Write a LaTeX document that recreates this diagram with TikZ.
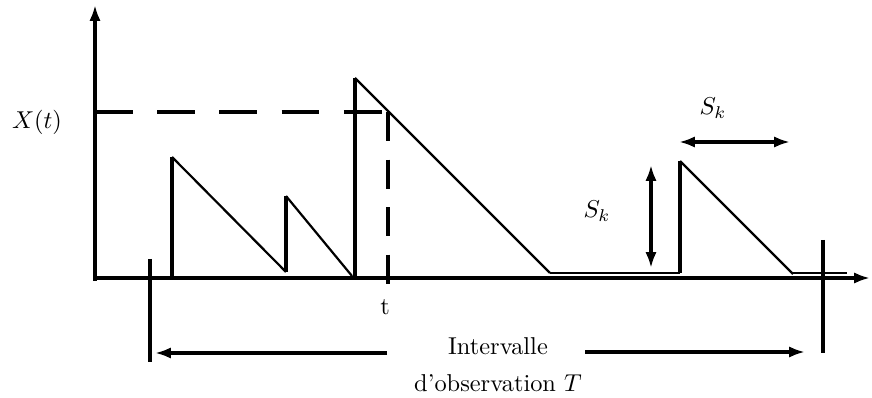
\documentclass[tikz,border=0pt]{standalone}
\usetikzlibrary{arrows.meta}
\tikzset{
    tip/.style={-{Latex[length=6.5pt,width=4.6pt]}},
    axis/.style={line width=1.5pt,tip},
    jump/.style={line width=1.3pt},
    decay/.style={line width=0.9pt},
    bar/.style={line width=1.5pt},
    dimline/.style={line width=1.5pt,tip},
    dimboth/.style={line width=1.5pt,{Latex[length=6.5pt,width=4.6pt]}-{Latex[length=6.5pt,width=4.6pt]}},
    hguide/.style={line width=1.5pt,dash pattern=on 15.5pt off 10pt},
    vguide/.style={line width=1.5pt,dash pattern=on 12pt off 7.5pt},
    lbl/.style={inner sep=0pt}
}
\begin{document}
\begin{tikzpicture}[x=0.41pt,y=-0.41pt]
    \useasboundingbox (0,0) rectangle (872,398);
    % axes
    \coordinate (O) at (95,278);
    \coordinate (ybot) at (95,281);
    \coordinate (ytop) at (95,5);
    \coordinate (xend) at (870,278);
    \draw[axis] (ybot) -- (ytop);
    \draw[axis] (O) -- (xend);
    \node[lbl] (xt) at (37,122) {$X(t)$};
    % sawtooth: x of jump / base / peak / x and y of end of decay
    \foreach \a/\b/\c/\d/\e in {172/278/157/286/272, 286/272/196/352/276, 355/276/78/550/273, 680/273/161/793/274}{
        \draw[jump] (\a,\b) -- (\a,\c);
        \draw[decay] (\a,\c) -- (\d,\e);
    }
    \draw[decay] (550,273) -- (680,273);
    \draw[decay] (793,273) -- (847,273);
    % level at time t
    \coordinate (xlev) at (95,112);
    \coordinate (hit) at (388,112);
    \coordinate (tfoot) at (388,287);
    \draw[hguide] (xlev) -- (hit);
    \draw[vguide] (hit) -- (tfoot);
    \node[lbl] (t) at (385,307) {t};
    % S_k
    \coordinate (sv1) at (651,268);
    \coordinate (sv2) at (651,165);
    \coordinate (sh1) at (679,142);
    \coordinate (sh2) at (790,142);
    \draw[dimboth] (sv1) -- (sv2);
    \draw[dimboth] (sh1) -- (sh2);
    \node[lbl] (skv) at (597,211) {$S_k$};
    \node[lbl] (skh) at (713,108) {$S_k$};
    % observation interval
    \coordinate (lb1) at (150,259);
    \coordinate (lb2) at (150,362);
    \coordinate (rb1) at (823,240);
    \coordinate (rb2) at (823,353);
    \draw[bar] (lb1) -- (lb2);
    \draw[bar] (rb1) -- (rb2);
    \node[lbl] (int) at (498,346) {Intervalle};
    \node[lbl] (obs) at (498,383) {d'observation $T$};
    \coordinate (al) at (387,353);
    \coordinate (alt) at (155,353);
    \coordinate (ar) at (585,352);
    \coordinate (art) at (805,352);
    \draw[dimline] (al) -- (alt);
    \draw[dimline] (ar) -- (art);
\end{tikzpicture}
\end{document}
